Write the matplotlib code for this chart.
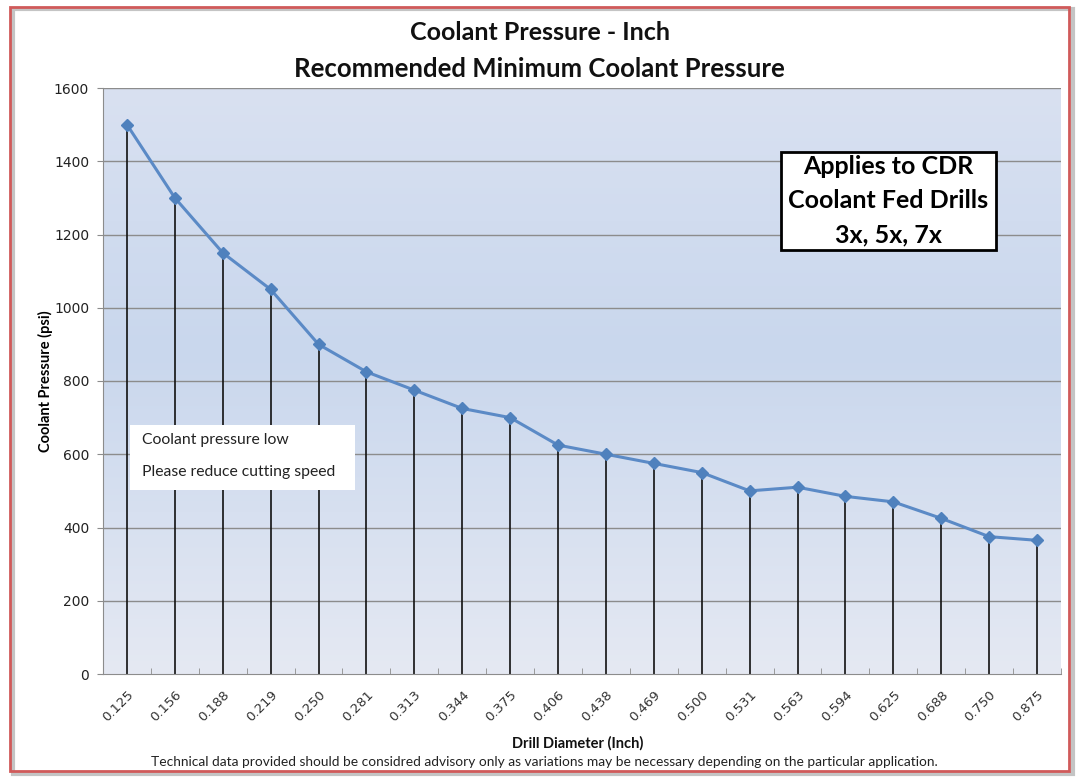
import numpy as np
import matplotlib
matplotlib.use("Agg")
import matplotlib.pyplot as plt
from matplotlib.patches import Rectangle
from matplotlib.colors import LinearSegmentedColormap

# Drill diameters (inch) and minimum coolant pressure (psi)
diameters = ["0.125", "0.156", "0.188", "0.219", "0.250", "0.281", "0.313",
             "0.344", "0.375", "0.406", "0.438", "0.469", "0.500", "0.531",
             "0.563", "0.594", "0.625", "0.688", "0.750", "0.875"]
pressure = [1500, 1300, 1150, 1050, 900, 825, 775, 725, 700, 625,
            600, 575, 550, 500, 510, 485, 470, 425, 375, 365]
y_ticks = [0, 200, 400, 600, 800, 1000, 1200, 1400, 1600]

FONT = ["Lato", "DejaVu Sans"]
TICK_FONT = ["DejaVu Sans"]
plt.rcParams["font.family"] = FONT

W, H = 1078, 778
fig = plt.figure(figsize=(W / 100, H / 100), dpi=100)
fig.patch.set_facecolor("white")

# outer frame with a soft shadow
fig.patches.append(Rectangle((13 / W, 1 - 774 / H), 1060 / W, 765 / H,
                             transform=fig.transFigure, fill=False,
                             edgecolor="#c4c4c4", lw=3, zorder=0))
fig.patches.append(Rectangle((10 / W, 1 - 771 / H), 1059 / W, 764 / H,
                             transform=fig.transFigure, fill=False,
                             edgecolor="#d05a5a", lw=2, zorder=1))

ax = fig.add_axes([103 / W, 1 - 674 / H, 958 / W, 586 / H])
x = np.arange(len(diameters))

# blue gradient plot background
grad_cmap = LinearSegmentedColormap.from_list(
    "bg", [(0.0, "#e5e9f3"), (0.55, "#c9d7ed"), (1.0, "#d9e1f1")])
grad = np.linspace(0, 1, 256).reshape(-1, 1)
ax.imshow(grad, extent=(-0.5, len(diameters) - 0.5, 0, 1600), origin="lower",
          aspect="auto", cmap=grad_cmap, zorder=0)

ax.set_xlim(-0.5, len(diameters) - 0.5)
ax.set_ylim(0, 1600)
ax.set_yticks(y_ticks)
ax.set_yticklabels([str(v) for v in y_ticks], fontsize=10, color="#222222",
                   family=TICK_FONT)
for v in y_ticks[1:]:
    ax.axhline(v, color="#8c8c8c", lw=1, zorder=1)

# drop lines from each point to the axis
ax.vlines(x, 0, pressure, color="#111111", lw=1.2, zorder=2)
ax.plot(x, pressure, color="#5b8ac6", lw=2.2, marker="D", ms=6,
        markerfacecolor="#4f81bd", markeredgecolor="#4f81bd", zorder=3)

ax.set_xticks(x)
ax.set_xticklabels(diameters, rotation=45, ha="right", rotation_mode="anchor",
                   fontsize=9.5, color="#333333", family=TICK_FONT)
ax.set_xticks(np.arange(-0.5, len(diameters), 1.0), minor=True)
ax.tick_params(axis="x", which="major", length=0, pad=10)
ax.tick_params(axis="x", which="minor", length=4, direction="in",
               color="#8c8c8c")
ax.tick_params(axis="y", length=4, color="#8c8c8c", pad=6)

for side in ("top", "right"):
    ax.spines[side].set_visible(False)
for side in ("left", "bottom"):
    ax.spines[side].set_color("#8c8c8c")

ax.set_ylabel("Coolant Pressure (psi)", fontsize=10.5, fontweight="bold")
ax.yaxis.set_label_coords(-0.052, 0.5)

# titles and notes
fig.text(540 / W, 1 - 33 / H, "Coolant Pressure - Inch", ha="center",
         va="center", fontsize=18, fontweight="bold", color="#111111")
fig.text(539 / W, 1 - 69 / H, "Recommended Minimum Coolant Pressure",
         ha="center", va="center", fontsize=18.5, fontweight="bold",
         color="#111111")
fig.text(578 / W, 1 - 743 / H, "Drill Diameter (Inch)", ha="center",
         va="center", fontsize=10.5, fontweight="bold", color="#111111")
fig.text(544 / W, 1 - 762 / H,
         "Technical data provided should be considred advisory only as "
         "variations may be necessary depending on the particular application.",
         ha="center", va="center", fontsize=9.9, color="#222222")

# warning note
fig.patches.append(Rectangle((130 / W, 1 - 490 / H), 225 / W, 65 / H,
                             transform=fig.transFigure, facecolor="white",
                             edgecolor="none", zorder=4))
fig.text(142 / W, 1 - 440 / H, "Coolant pressure low", ha="left",
         va="center", fontsize=11.3, color="#222222", zorder=5)
fig.text(142 / W, 1 - 472 / H, "Please reduce cutting speed", ha="left",
         va="center", fontsize=11.3, color="#222222", zorder=5)

# applicability box
fig.patches.append(Rectangle((781 / W, 1 - 250 / H), 215 / W, 98 / H,
                             transform=fig.transFigure, facecolor="white",
                             edgecolor="black", lw=2, zorder=4))
for yy, txt in [(167, "Applies to CDR"), (201, "Coolant Fed Drills"),
                (235, "3x, 5x, 7x")]:
    fig.text(888 / W, 1 - yy / H, txt, ha="center", va="center",
             fontsize=18, fontweight="bold", color="black", zorder=5)

fig.savefig("out.png", dpi=100)
